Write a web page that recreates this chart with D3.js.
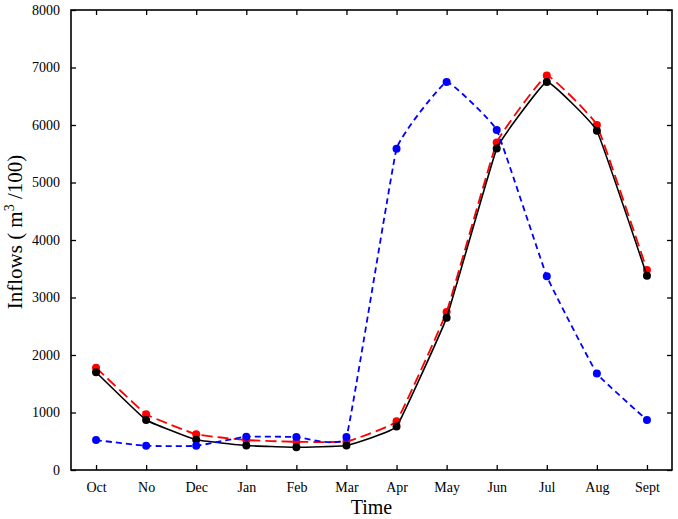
<!DOCTYPE html>
<html>
<head>
<meta charset="utf-8">
<script src="https://cdn.jsdelivr.net/npm/d3@7"></script>
<style>
  body { margin: 0; background: #fff; }
  text { font-family: "Liberation Serif", "Times New Roman", serif; }
</style>
</head>
<body>
<script>
'use strict';

// months on the x axis
let months = ["Oct", "No", "Dec", "Jan", "Feb", "Mar", "Apr", "May", "Jun", "Jul", "Aug", "Sept"];
// y tick values
let yTicks = [0, 1000, 2000, 3000, 4000, 5000, 6000, 7000, 8000];

// series
let blackSeries = [1700, 870, 525, 425, 395, 425, 755, 2650, 5590, 6750, 5900, 3380];
let redSeries = [1780, 970, 620, 520, 490, 495, 850, 2750, 5695, 6860, 6000, 3480];
let blueSeries = [520, 420, 420, 580, 575, 575, 5585, 6750, 5915, 3370, 1680, 870];

(function() {
  let width = 678, height = 519;
  let plot = {left: 71, right: 672, top: 10, bottom: 470};

  let svg = d3.select('body')
    .append('svg')
    .attr('width', width)
    .attr('height', height);

  let xScale = d3.scalePoint()
    .domain(months)
    .range([plot.left, plot.right])
    .padding(0.5);

  let yScale = d3.scaleLinear()
    .domain([0, 8000])
    .range([plot.bottom, plot.top]);

  // axes, ticks pointing inward on all four sides
  let bottomAxis = d3.axisBottom(xScale).tickSizeInner(-5).tickSizeOuter(0).tickPadding(12);
  let topAxis = d3.axisTop(xScale).tickSizeInner(-5).tickSizeOuter(0).tickFormat('');
  let leftAxis = d3.axisLeft(yScale).tickValues(yTicks).tickFormat(d3.format('d'))
    .tickSizeInner(-5).tickSizeOuter(0).tickPadding(11);
  let rightAxis = d3.axisRight(yScale).tickValues(yTicks).tickSizeInner(-5).tickSizeOuter(0).tickFormat('');

  function styleAxis(g) {
    g.select('.domain').remove();
    g.selectAll('line').attr('stroke', '#000').attr('stroke-width', 1.3);
    g.selectAll('text').attr('fill', '#000').style('font-size', '14px')
      .style('font-family', '"Liberation Serif", "Times New Roman", serif');
  }

  svg.append('g').attr('transform', 'translate(0,' + plot.bottom + ')').call(bottomAxis).call(styleAxis);
  svg.append('g').attr('transform', 'translate(0,' + plot.top + ')').call(topAxis).call(styleAxis);
  svg.append('g').attr('transform', 'translate(' + plot.left + ',0)').call(leftAxis).call(styleAxis);
  svg.append('g').attr('transform', 'translate(' + plot.right + ',0)').call(rightAxis).call(styleAxis);

  // frame
  svg.append('rect')
    .attr('x', plot.left)
    .attr('y', plot.top)
    .attr('width', plot.right - plot.left)
    .attr('height', plot.bottom - plot.top)
    .attr('fill', 'none')
    .attr('stroke', '#000')
    .attr('stroke-width', 1.6);

  // draw one series: line + dots
  function drawSeries(values, name, color, dash, strokeWidth) {
    let line = d3.line()
      .x((d, i) => xScale(months[i]))
      .y((d) => yScale(d))
      .curve(d3.curveCardinal.tension(0.75));

    svg.append('path')
      .datum(values)
      .attr('fill', 'none')
      .attr('stroke', color)
      .attr('stroke-width', strokeWidth)
      .attr('stroke-dasharray', dash)
      .attr('d', line);

    svg.selectAll('.dot-' + name)
      .data(values)
      .enter()
      .append('circle')
        .attr('class', 'dot-' + name)
        .attr('cx', (d, i) => xScale(months[i]))
        .attr('cy', (d) => yScale(d))
        .attr('r', 4)
        .attr('fill', color);
  }

  drawSeries(redSeries, 'red', '#ff0000', '11,5', 1.8);
  drawSeries(blackSeries, 'black', '#000000', null, 1.6);
  drawSeries(blueSeries, 'blue', '#0000ff', '6,4', 1.8);

  // axis titles
  svg.append('text')
    .attr('x', (plot.left + plot.right) / 2)
    .attr('y', 514)
    .attr('text-anchor', 'middle')
    .style('font-size', '20px')
    .text('Time');

  let yTitle = svg.append('text')
    .attr('transform', 'translate(22, 232)rotate(-90)')
    .attr('text-anchor', 'middle')
    .style('font-size', '21px');
  yTitle.append('tspan').text('Inflows ( m');
  yTitle.append('tspan').attr('dy', -8).style('font-size', '14px').text('3');
  yTitle.append('tspan').attr('dy', 8).text(' /100)');
})();
</script>
</body>
</html>
